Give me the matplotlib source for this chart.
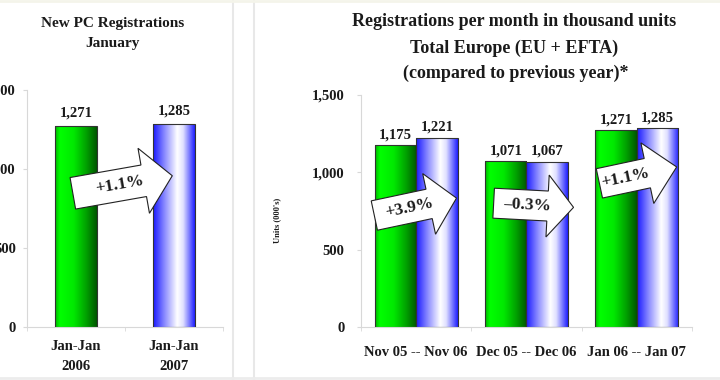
"""New PC registrations, January 2007 vs previous year."""

import numpy as np
import matplotlib
matplotlib.use('Agg')
import matplotlib.pyplot as plt
import matplotlib.colors as mcolors
import matplotlib.patches as mpatches
import matplotlib.transforms as mtransforms
from matplotlib.lines import Line2D

# data
left_cats = ['Jan-Jan\n2006', 'Jan-Jan\n2007']
left_vals = [1271, 1285]
left_change = ['+1.1%']

right_cats = ['Nov 05 -- Nov 06', 'Dec 05 -- Dec 06', 'Jan 06 -- Jan 07']
prev_year = [1175, 1071, 1271]
this_year = [1221, 1067, 1285]
right_change = ['+3.9%', '\u20130.3%', '+1.1%']

yticks = [0, 500, 1000, 1500]

FONT = 'Liberation Serif'
TXT = '#1a1a1a'
GREEN = mcolors.LinearSegmentedColormap.from_list('green', [
    (0.0, '#00b400'), (0.12, '#00ff00'), (0.45, '#00e800'),
    (0.75, '#00a000'), (1.0, '#005500')])
BLUE = mcolors.LinearSegmentedColormap.from_list('blue', [
    (0.0, '#1818ff'), (0.25, '#8080ff'), (0.58, '#ffffff'),
    (0.72, '#e0e0ff'), (1.0, '#1e1eff')])


def shade_bars(ax, bars, cmap):
    """Fill bar rectangles with a horizontal gradient."""
    grad = np.linspace(0, 1, 256).reshape(1, -1)
    for bar in bars:
        x0, y0 = bar.get_x(), bar.get_y()
        im = ax.imshow(grad, cmap=cmap, aspect='auto', zorder=2,
                       extent=(x0, x0 + bar.get_width(), y0,
                               y0 + bar.get_height()))
        im.set_clip_path(bar)


def block_arrow(ax, x, y, text, rot, left, head, tip, bh=15, hh=31):
    """White block arrow (pixel shape) centred on a data point."""
    px, py = ax.transData.transform((x, y))
    pts = [(left, -bh), (head, -bh), (head, -hh), (tip, 0),
           (head, hh), (head, bh), (left, bh)]
    trans = mtransforms.Affine2D().rotate_deg(rot).translate(px, py)
    ax.add_patch(mpatches.Polygon(
        pts, closed=True, facecolor='white', edgecolor='#222222',
        lw=0.8, transform=trans, zorder=5, clip_on=False))
    ax.text(x, y, text, rotation=rot, rotation_mode='anchor', ha='center',
            va='center', fontsize=12.5, fontweight='bold', family=FONT,
            color=TXT, zorder=6)


def style_axes(ax, ylabelpad, xlabelpad, n):
    ax.set_ylim(0, 1500)
    ax.set_xlim(-0.5, n - 0.5)
    ax.set_yticks(yticks)
    ax.set_yticklabels(['{:,}'.format(v) for v in yticks])
    for side in ('top', 'right'):
        ax.spines[side].set_visible(False)
    for side in ('left', 'bottom'):
        ax.spines[side].set_color('#d8d8d8')
    ax.tick_params(axis='y', length=3, color='#d8d8d8', pad=ylabelpad)
    ax.tick_params(axis='x', length=0, pad=xlabelpad)
    ax.set_xticks(np.arange(n + 1) - 0.5, minor=True)
    ax.tick_params(axis='x', which='minor', length=3, color='#d8d8d8')
    for lab in ax.get_xticklabels() + ax.get_yticklabels():
        lab.set_family(FONT)
        lab.set_fontweight('bold')
        lab.set_fontsize(10.5)
        lab.set_color(TXT)


def main():
    fig = plt.figure(figsize=(7.2, 3.8), dpi=100)

    # left panel
    axl = fig.add_axes([27 / 720, 53 / 380, 196 / 720, 237 / 380])
    xl = np.arange(len(left_cats))
    bars = axl.bar(xl, left_vals, width=0.42, facecolor='none',
                   edgecolor='#333333', lw=0.8, zorder=3)
    shade_bars(axl, bars[:1], GREEN)
    shade_bars(axl, bars[1:], BLUE)
    axl.set_xticks(xl)
    axl.set_xticklabels(left_cats, linespacing=1.75)
    style_axes(axl, 5, 9, len(left_cats))
    for x, v in zip(xl, left_vals):
        axl.annotate('{:,}'.format(v), (x, v), xytext=(0, 5),
                     textcoords='offset points', ha='center', va='bottom',
                     fontsize=10.5, fontweight='bold', family=FONT, color=TXT)
    block_arrow(axl, 0.45, 899, left_change[0], 10, -48, 24, 53, 16, 33)

    # right panel
    axr = fig.add_axes([361 / 720, 53 / 380, 331 / 720, 232 / 380])
    xr = np.arange(len(right_cats))
    w = 0.375
    b1 = axr.bar(xr - w / 2, prev_year, width=w, facecolor='none',
                 edgecolor='#333333', lw=0.8, zorder=3)
    b2 = axr.bar(xr + w / 2, this_year, width=w, facecolor='none',
                 edgecolor='#333333', lw=0.8, zorder=3)
    shade_bars(axr, b1, GREEN)
    shade_bars(axr, b2, BLUE)
    axr.set_xticks(xr)
    axr.set_xticklabels(right_cats)
    style_axes(axr, 9, 14, len(right_cats))
    for xs, vals in ((xr - w / 2, prev_year), (xr + w / 2, this_year)):
        for x, v in zip(xs, vals):
            axr.annotate('{:,}'.format(v), (x, v), xytext=(0, 3),
                         textcoords='offset points', ha='center',
                         va='bottom', fontsize=10.5, fontweight='bold',
                         family=FONT, color=TXT)
    axr.set_ylabel("Units (000's)", fontsize=6, fontweight='bold',
                   family=FONT, color=TXT)
    axr.yaxis.set_label_coords(-0.242, 0.46)
    arrows = [(-0.06, 769, 12, -36, 20, 48),
              (1.01, 789, -3, -34, 20, 46),
              (1.90, 965, 12, -27, 22, 52)]
    for text, (x, y, rot, l, h, t) in zip(right_change, arrows):
        block_arrow(axr, x, y, text, rot, l, h, t)

    # titles
    kw = dict(ha='center', va='center', family=FONT, fontweight='bold',
              color=TXT)
    fig.text(113 / 720, 1 - 23 / 380, 'New PC Registrations', fontsize=11,
             **kw)
    fig.text(113 / 720, 1 - 44 / 380, 'January', fontsize=11, **kw)
    fig.text(514 / 720, 1 - 22 / 380,
             'Registrations per month in thousand units', fontsize=13, **kw)
    fig.text(514 / 720, 1 - 48 / 380, 'Total Europe (EU + EFTA)',
             fontsize=13, **kw)
    fig.text(516 / 720, 1 - 73 / 380, '(compared to previous year)*',
             fontsize=13, **kw)

    # panel frames
    for xp in (233, 254):
        fig.add_artist(Line2D([xp / 720] * 2, [0, 1], color='#e8e8e8',
                              lw=1.5))
    fig.add_artist(Line2D([0, 1], [1 - 1 / 380] * 2, color='#f4f4ea', lw=2))
    fig.add_artist(Line2D([0, 1], [2 / 380] * 2, color='#ececec', lw=2))

    fig.savefig('out.png', dpi=100)


if __name__ == '__main__':
    main()
